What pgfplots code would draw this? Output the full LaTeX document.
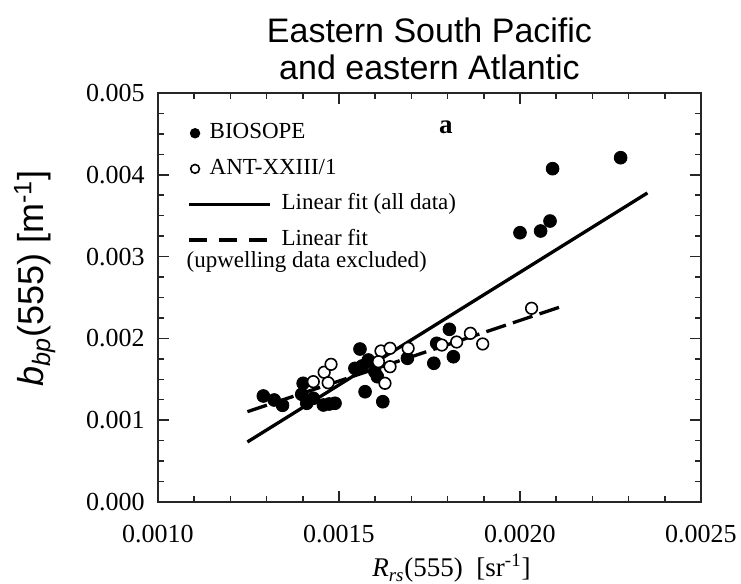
\documentclass[border=0pt]{standalone}
\usepackage{pgfplots}
\pgfplotsset{compat=1.18}
\usepackage{fontspec}
\setmainfont{Liberation Serif}
\newfontfamily\arial{Liberation Sans}
\pgfplotsset{
  legfilled/.style={legend image code/.code={\draw[mark repeat=2,mark phase=2,##1,mark size=2.4pt] plot coordinates {(0pt,0pt) (3pt,0pt) (6pt,0pt)};}},
  legopen/.style={legend image code/.code={\draw[mark repeat=2,mark phase=2,##1,mark size=2.2pt] plot coordinates {(0pt,0pt) (3pt,0pt) (6pt,0pt)};}},
  legsolid/.style={legend image code/.code={\draw[##1] (0pt,0pt) -- (40.5pt,0pt);}},
  legdashed/.style={legend image code/.code={\draw[##1, dash pattern=on 9pt off 6pt] (0pt,0pt) -- (40.5pt,0pt);}},
}
\begin{document}
\begin{tikzpicture}
\path[use as bounding box] (-79pt,-41pt) rectangle (291.5pt,251pt);
\begin{axis}[
  at={(0pt,0pt)}, anchor=south west,
  scale only axis, width=271.5pt, height=204.5pt,
  xmin=0.001, xmax=0.0025, ymin=0, ymax=0.005,
  xtick={0.001,0.0015,0.002,0.0025},
  ytick={0,0.001,0.002,0.003,0.004,0.005},
  minor x tick num=4, minor y tick num=3,
  scaled ticks=false,
  /pgf/number format/assume math mode=true,
  xticklabel style={yshift=-8pt,/pgf/number format/.cd, fixed, fixed zerofill, precision=4},
  yticklabel style={xshift=-3.2pt,/pgf/number format/.cd, fixed, fixed zerofill, precision=3},
  tick label style={font=\fontsize{13}{13}\selectfont},
  tick align=inside,
  major tick length=5.5pt, minor tick length=3pt,
  axis line style={line width=0.75pt, draw=black!85},
  every tick/.style={line width=0.75pt, black!85},
  clip=false,
  xlabel={\textit{R}\textsubscript{\textit{rs}}(555)\ \ [sr\textsuperscript{-1}]},
  xlabel style={at={(axis description cs:0.5,0)}, anchor=base, xshift=11pt, yshift=-37.5pt, font=\fontsize{13.5}{13.5}\selectfont},
  ylabel={\textit{b}\textsubscript{\textit{bp}}(555) [m\textsuperscript{-1}]},
  ylabel style={at={(axis description cs:-0.21,0.5465)}, anchor=base, font=\arial\fontsize{18}{18}\selectfont},
  legend style={at={(axis description cs:0.0534,0.9380)}, anchor=north west, draw=none, fill=none, inner sep=0pt,
    row sep=3.3pt, column sep=3pt, font=\fontsize{11.5}{13}\selectfont,
    nodes={text height=8pt, text depth=2.5pt}},
  legend cell align=left,
]
\addplot[only marks, mark=*, mark size=3.2pt, black, legfilled]
  table {
x y
0.001291 0.001296
0.001321 0.001247
0.001344 0.001182
0.001401 0.001451
0.001397 0.001317
0.001411 0.001207
0.001429 0.001268
0.001457 0.001186
0.001473 0.001198
0.001489 0.001207
0.001558 0.001870
0.001544 0.001634
0.001564 0.001663
0.001581 0.001736
0.001599 0.001593
0.001606 0.001532
0.001572 0.001348
0.001621 0.001226
0.001689 0.001757
0.001770 0.001940
0.001805 0.002111
0.001762 0.001696
0.001816 0.001776
0.002000 0.003292
0.002057 0.003313
0.002083 0.003435
0.002090 0.004075
0.002278 0.004209
};
\addlegendentry{\hspace*{-36pt}BIOSOPE}
\addplot[only marks, mark=*, mark size=2.9pt, draw=black, fill=white, mark options={line width=0.8pt}, legopen]
  table {
x y
0.001429 0.001471
0.001459 0.001586
0.001478 0.001683
0.001470 0.001458
0.001616 0.001846
0.001641 0.001879
0.001691 0.001879
0.001641 0.001654
0.001627 0.001451
0.001609 0.001715
0.001784 0.001919
0.001825 0.001956
0.001863 0.002062
0.001897 0.001932
0.002032 0.002368
};
\addlegendentry{\hspace*{-36pt}ANT-XXIII/1}
\addplot[black, line width=1.65pt, legsolid]
  coordinates {(0.001247,0.000734) (0.002352,0.003778)};
\addlegendentry{Linear fit (all data)}
\addplot[black, line width=1.65pt, dash pattern=on 10.3pt off 3.7pt, legdashed]
  coordinates {(0.001247,0.001104) (0.002127,0.002408)};
\addlegendentry{\makebox[0pt][l]{\raisebox{-11pt}[0pt][0pt]{\hspace*{-47.5pt}(upwelling data excluded)}}Linear fit}
\node[anchor=base, font=\fontsize{13.5}{13.5}\selectfont\bfseries] at (axis description cs:0.530,0.902) {a};
\node[anchor=base, font=\arial\fontsize{17}{17}\selectfont] at (axis description cs:0.5,1.1237) {Eastern South Pacific};
\node[anchor=base, font=\arial\fontsize{17}{17}\selectfont] at (axis description cs:0.5,1.0342) {and eastern Atlantic};
\end{axis}
\end{tikzpicture}
\end{document}
